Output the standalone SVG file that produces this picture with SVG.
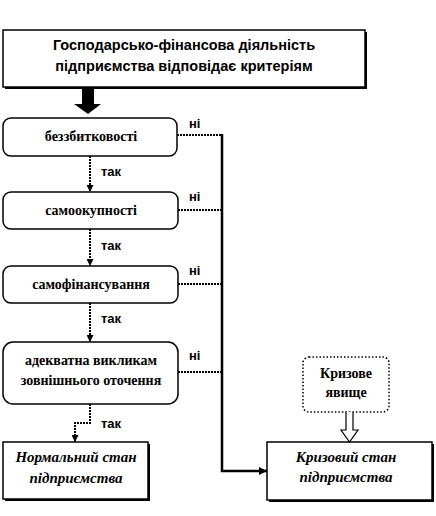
<svg xmlns="http://www.w3.org/2000/svg" width="436" height="516" viewBox="0 0 436 516">
<style>
.box{fill:#fff;stroke:#000;stroke-width:1.5}
.shadow{fill:#000}
.hd{font-family:"Liberation Sans",Arial,sans-serif;font-weight:bold;font-size:14.5px;text-anchor:middle}
.bt{font-family:"Liberation Serif","Times New Roman",serif;font-weight:bold;font-size:14px;text-anchor:middle}
.it{font-family:"Liberation Serif","Times New Roman",serif;font-weight:bold;font-style:italic;font-size:15px;text-anchor:middle}
.lbl{font-family:"Liberation Sans",Arial,sans-serif;font-weight:bold;font-size:13px}
.dot{fill:none;stroke:#000;stroke-width:2;stroke-dasharray:2 1}
.solid{fill:none;stroke:#000;stroke-width:2.5}
</style>
<defs>
<marker id="sm" viewBox="0 0 10 10" refX="10" refY="5" markerWidth="7" markerHeight="7" markerUnits="userSpaceOnUse" orient="auto">
<path d="M0,0 L10,5 L0,10 z" fill="#000"/>
</marker>
<marker id="big" viewBox="0 0 10 10" refX="10" refY="5" markerWidth="8" markerHeight="8" markerUnits="userSpaceOnUse" orient="auto">
<path d="M0,0 L10,5 L0,10 z" fill="#000"/>
</marker>
</defs>
<rect width="436" height="516" fill="#fff"/>

<g id="start">
<rect x="5" y="32" width="362" height="57" class="shadow"/>
<rect x="3" y="30" width="362" height="57" class="box"/>
<text x="184" y="50" class="hd">Господарсько-фінансова діяльність</text>
<text x="184" y="71" class="hd">підприємства відповідає критеріям</text>
</g>

<g id="bigarrow">
<path d="M82,87 L94,87 L94,104 L101,104 L88,114 L74,104 L82,104 Z" fill="#000"/>
</g>

<g id="n1">
<rect x="3" y="118" width="174" height="38" rx="8" class="box"/>
<text x="91" y="141" class="bt">беззбитковості</text>
</g>
<g id="n2">
<rect x="3" y="192" width="175" height="37" rx="8" class="box"/>
<text x="91" y="215" class="bt">самоокупності</text>
</g>
<g id="n3">
<rect x="3" y="266" width="175" height="37" rx="8" class="box"/>
<text x="91" y="289" class="bt">самофінансування</text>
</g>
<g id="n4">
<rect x="3" y="342" width="175" height="62" rx="10" class="box"/>
<text x="91" y="365" class="bt">адекватна викликам</text>
<text x="91" y="385" class="bt">зовнішнього  оточення</text>
</g>
<g id="normal">
<rect x="5" y="444" width="145" height="57" class="shadow"/>
<rect x="3" y="442" width="145" height="57" class="box"/>
<text x="76" y="462" class="it">Нормальний стан</text>
<text x="76" y="483" class="it">підприємства</text>
</g>
<g id="crisisEvent">
<rect x="303" y="357" width="86" height="55" rx="6" fill="#fff" stroke="#000" stroke-width="1.5" stroke-dasharray="1.5 2"/>
<text x="346" y="378" class="bt">Кризове</text>
<text x="346" y="397" class="bt">явище</text>
</g>
<g id="crisis">
<rect x="269" y="444" width="165" height="58" class="shadow"/>
<rect x="267" y="442" width="165" height="58" class="box"/>
<text x="346" y="462" class="it">Кризовий стан</text>
<text x="346" y="482" class="it">підприємства</text>
</g>

<g id="connectors">
<path d="M90,156 V192" class="dot" marker-end="url(#sm)"/>
<path d="M90,229 V266" class="dot" marker-end="url(#sm)"/>
<path d="M90,303 V342" class="dot" marker-end="url(#sm)"/>
<path d="M90,404 V423 H75 V442" class="dot" marker-end="url(#sm)"/>
<path d="M177,135 H222" class="dot"/>
<path d="M178,210 H222" class="dot"/>
<path d="M178,284 H222" class="dot"/>
<path d="M178,372 H222" class="dot"/>
<path d="M222,134 V471 H267" class="solid" marker-end="url(#big)"/>
<path d="M346,412 V430 H341 L349.5,442 L358,430 H353 V412" fill="#fff" stroke="#000" stroke-width="1.2"/>
</g>

<g id="labels">
<text x="189" y="128" class="lbl">ні</text>
<text x="189" y="201" class="lbl">ні</text>
<text x="189" y="275" class="lbl">ні</text>
<text x="189" y="360" class="lbl">ні</text>
<text x="101" y="176" class="lbl">так</text>
<text x="101" y="250" class="lbl">так</text>
<text x="101" y="323" class="lbl">так</text>
<text x="101" y="428" class="lbl">так</text>
</g>
</svg>
